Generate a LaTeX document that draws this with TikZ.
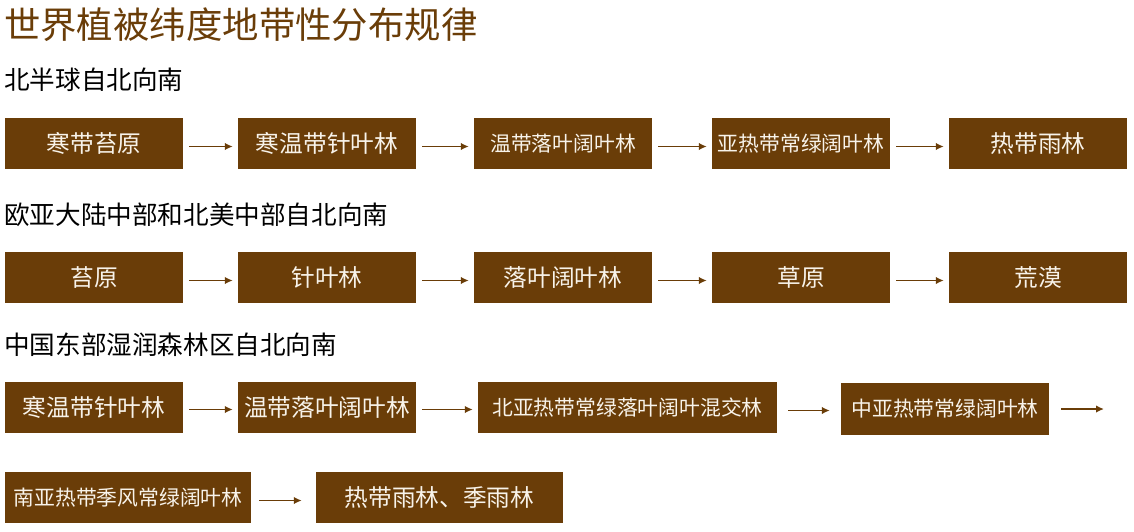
\documentclass[tikz,border=0pt]{standalone}
\usepackage{fontspec}
\setmainfont{Noto Sans CJK SC}
\usetikzlibrary{arrows.meta}
\definecolor{brn}{HTML}{6A3D08}
\definecolor{txtw}{HTML}{F8F3EA}
\tikzset{
  bx/.style={fill=brn,draw=none,inner sep=0pt,text=txtw,minimum height=51pt,font=\fontsize{23.7pt}{26pt}\selectfont},
  bxs/.style={bx,font=\fontsize{20.8pt}{24pt}\selectfont},
  hd/.style={anchor=west,inner sep=0pt,text=black,font=\fontsize{25.6pt}{28pt}\selectfont},
  arr/.style={draw=brn,line width=1.6pt,-{Latex[length=8pt,width=7.5pt]},shorten <=6pt,shorten >=5pt}
}
\begin{document}
\begin{tikzpicture}[x=1pt,y=-1pt]
\useasboundingbox (0,0) rectangle (1134,531);
\node[anchor=west,inner sep=0pt,text=brn,font=\fontsize{36.4pt}{40pt}\selectfont] (title) at (4,25) {世界植被纬度地带性分布规律};
\node[hd] (h1) at (4,80) {北半球自北向南};
\node[hd] (h2) at (4,215) {欧亚大陆中部和北美中部自北向南};
\node[hd] (h3) at (4,345) {中国东部湿润森林区自北向南};
% row 1
\node[bx,minimum width=178pt] (a1) at (94,143.5) {寒带苔原};
\node[bx,minimum width=178pt] (a2) at (327,143.5) {寒温带针叶林};
\node[bxs,minimum width=178pt] (a3) at (563,143.5) {温带落叶阔叶林};
\node[bxs,minimum width=178pt] (a4) at (801,143.5) {亚热带常绿阔叶林};
\node[bx,minimum width=178pt] (a5) at (1038,143.5) {热带雨林};
\draw[arr] ([yshift=-3pt]a1.east) -- ([yshift=-3pt]a2.west);
\draw[arr] ([yshift=-3pt]a2.east) -- ([yshift=-3pt]a3.west);
\draw[arr] ([yshift=-3pt]a3.east) -- ([yshift=-3pt]a4.west);
\draw[arr] ([yshift=-3pt]a4.east) -- ([yshift=-3pt]a5.west);
% row 2
\node[bx,minimum width=178pt] (b1) at (94,277.5) {苔原};
\node[bx,minimum width=178pt] (b2) at (327,277.5) {针叶林};
\node[bx,minimum width=178pt] (b3) at (563,277.5) {落叶阔叶林};
\node[bx,minimum width=178pt] (b4) at (801,277.5) {草原};
\node[bx,minimum width=178pt] (b5) at (1038,277.5) {荒漠};
\draw[arr] ([yshift=-3pt]b1.east) -- ([yshift=-3pt]b2.west);
\draw[arr] ([yshift=-3pt]b2.east) -- ([yshift=-3pt]b3.west);
\draw[arr] ([yshift=-3pt]b3.east) -- ([yshift=-3pt]b4.west);
\draw[arr] ([yshift=-3pt]b4.east) -- ([yshift=-3pt]b5.west);
% row 3
\node[bx,minimum width=178pt] (c1) at (94,407.5) {寒温带针叶林};
\node[bx,minimum width=178pt] (c2) at (327,407.5) {温带落叶阔叶林};
\node[bxs,minimum width=299pt] (c3) at (627.5,407.5) {北亚热带常绿落叶阔叶混交林};
\node[bxs,minimum width=208pt,minimum height=52pt] (c4) at (945,409) {中亚热带常绿阔叶林};
\coordinate (c5) at (1104,409);
\draw[arr] ([yshift=-2pt]c1.east) -- ([yshift=-2pt]c2.west);
\draw[arr] ([yshift=-2pt]c2.east) -- ([yshift=-2pt]c3.west);
\draw[arr,shorten <=11pt,shorten >=11pt] ([yshift=-3pt]c3.east) -- ([yshift=-3pt]c3.east -| c4.west);
\draw[arr,shorten <=12pt,shorten >=0pt] (c4) -- (c5);
% row 4
\node[bxs,minimum width=246pt] (d1) at (128,497.5) {南亚热带季风常绿阔叶林};
\node[bx,minimum width=247pt] (d2) at (439.5,497.5) {热带雨林、季雨林};
\draw[arr,shorten <=8pt,shorten >=14pt] ([yshift=-3pt]d1.east) -- ([yshift=-3pt]d2.west);
\end{tikzpicture}
\end{document}
